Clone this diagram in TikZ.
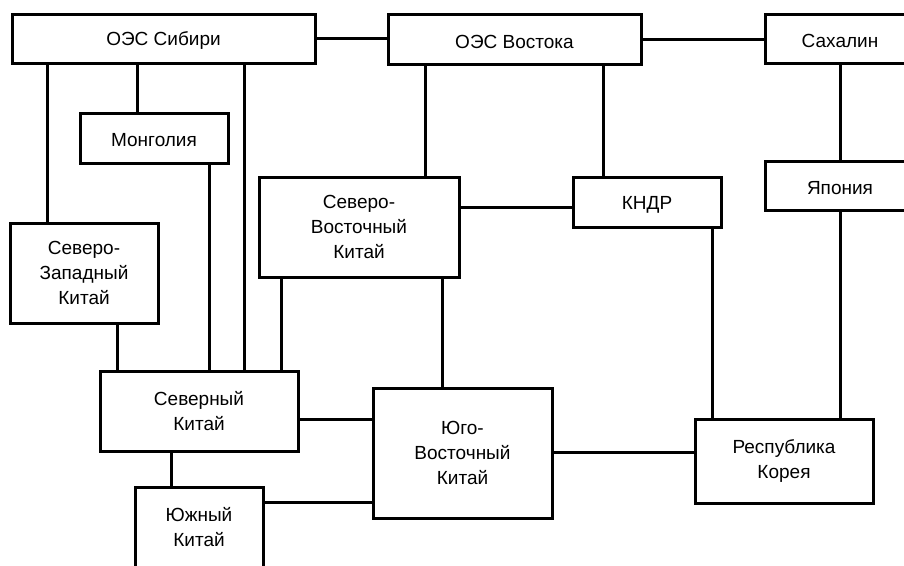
\documentclass[tikz,border=0pt]{standalone}
\usepackage{fontspec}
\setmainfont{Liberation Sans}
\newcommand{\lowtxt}[1]{\raisebox{-2.5pt}[\height][\depth]{#1}}
\begin{document}
\begin{tikzpicture}[x=1pt,y=-1pt,
  box/.style={draw=black,line width=3pt,rectangle,inner sep=0pt,align=center,
    font=\fontsize{19}{25}\selectfont},
  link/.style={draw=black,line width=3pt}]
\useasboundingbox (0,0) rectangle (904,565);
\clip (0,0) rectangle (904,565);
\fill[white] (0,0) rectangle (904,565);
% nodes
\node[box,minimum width=303pt,minimum height=49pt] (sib) at (163.5,38.5) {\lowtxt{ОЭС Сибири}};
\node[box,minimum width=253pt,minimum height=50pt] (vos) at (514.5,39) {\lowtxt{ОЭС Востока}};
\node[box,minimum width=150pt,minimum height=49pt] (sah) at (840,38.5) {\lowtxt{Сахалин}};
\node[box,minimum width=148pt,minimum height=50pt] (mon) at (154,138) {\lowtxt{Монголия}};
\node[box,minimum width=200pt,minimum height=100pt] (svk) at (359,227) {Северо-\\Восточный\\Китай};
\node[box,minimum width=148pt,minimum height=50pt] (kndr) at (647,202) {\lowtxt{КНДР}};
\node[box,minimum width=150pt,minimum height=49pt] (jap) at (840,185.5) {\lowtxt{Япония}};
\node[box,minimum width=148pt,minimum height=100pt] (szk) at (84,273) {Северо-\\Западный\\Китай};
\node[box,minimum width=198pt,minimum height=80pt] (sev) at (199,411) {Северный\\Китай};
\node[box,minimum width=179pt,minimum height=130pt] (yuv) at (462.5,453) {Юго-\\Восточный\\Китай};
\node[box,minimum width=178pt,minimum height=84pt] (kor) at (784,461) {Республика\\Корея};
\node[box,minimum width=128pt,minimum height=81pt] (yuzh) at (199,527.5) {Южный\\Китай};
% connectors
\draw[link] (sib.east) -- (sib.east -| vos.west);
\draw[link] (vos.east) -- (vos.east -| sah.west);
\draw[link] (sib.south -| 47,0) -- (szk.north -| 47,0);
\draw[link] (sib.south -| 137,0) -- (mon.north -| 137,0);
\draw[link] (sib.south -| 244,0) -- (sev.north -| 244,0);
\draw[link] (mon.south -| 209,0) -- (sev.north -| 209,0);
\draw[link] (szk.south -| 117,0) -- (sev.north -| 117,0);
\draw[link] (svk.south -| 281,0) -- (sev.north -| 281,0);
\draw[link] (vos.south -| 425,0) -- (svk.north -| 425,0);
\draw[link] (vos.south -| 603,0) -- (kndr.north -| 603,0);
\draw[link] (svk.east |- 0,207) -- (kndr.west |- 0,207);
\draw[link] (svk.south -| 442,0) -- (yuv.north -| 442,0);
\draw[link] (sah.south) -- (jap.north);
\draw[link] (jap.south) -- (kor.north -| jap.south);
\draw[link] (kndr.south -| 712,0) -- (kor.north -| 712,0);
\draw[link] (sev.east |- 0,419) -- (yuv.west |- 0,419);
\draw[link] (yuv.east |- 0,452) -- (kor.west |- 0,452);
\draw[link] (sev.south -| 171,0) -- (yuzh.north -| 171,0);
\draw[link] (yuzh.east |- 0,502) -- (yuv.west |- 0,502);
\end{tikzpicture}
\end{document}
